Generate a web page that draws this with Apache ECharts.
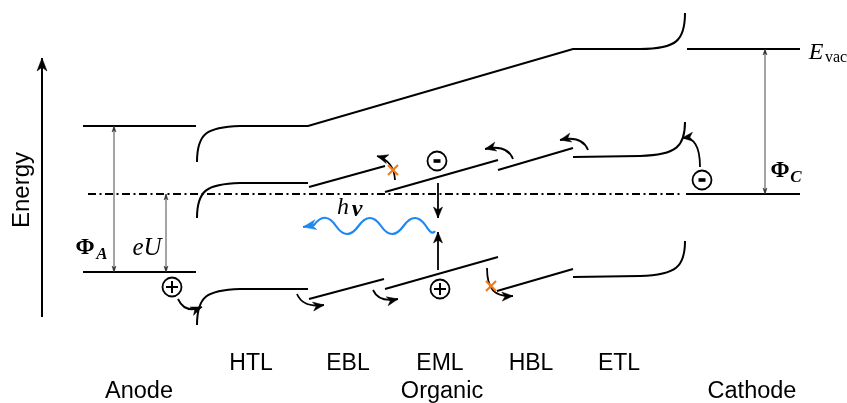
<!DOCTYPE html>
<html><head><meta charset="utf-8">
<script src="https://cdn.jsdelivr.net/npm/echarts@6/dist/echarts.min.js"></script>
<style>html,body{margin:0;padding:0;background:#fff}#c{width:847px;height:403px}</style>
</head><body><div id="c"></div>
<script>
// ---- diagram data (diagram units: x to the right, y downward = lower energy) ----
const layerNames = ['HTL', 'EBL', 'EML', 'HBL', 'ETL'];
const layerLabelX = [251, 348, 440, 531, 619];
const groupNames = ['Anode', 'Organic', 'Cathode'];
const groupLabelX = [139, 442, 752];

// electrode levels
const anodeLevels = [[83, 126, 196, 126], [83, 272, 196, 272]];
const cathodeLevels = [[687, 49, 800, 49], [686, 194, 800, 194]];
const fermiLine = [88, 194, 683, 194];

// vacuum level through the organic stack
const vacuumPath = [['M', 197, 162], ['C', 197, 133, 207, 127, 240, 126], ['L', 308, 126], ['L', 573, 49], ['L', 640, 49], ['C', 677, 49, 685, 40, 685, 13]];
// LUMO / HOMO of each layer
const lumoPaths = [
  [['M', 197, 218], ['C', 197, 190, 207, 184, 240, 183], ['L', 308, 183]],
  [['M', 309, 187], ['L', 385, 166]],
  [['M', 385, 192], ['L', 498, 160]],
  [['M', 498, 170], ['L', 573, 148]],
  [['M', 573, 157], ['L', 640, 156], ['C', 677, 155, 685, 146, 685, 122]]
];
const homoPaths = [
  [['M', 197, 325], ['C', 197, 296, 207, 290, 240, 289], ['L', 308, 289]],
  [['M', 309, 299], ['L', 384, 279]],
  [['M', 385, 289], ['L', 498, 257]],
  [['M', 497, 291], ['L', 573, 269]],
  [['M', 573, 277], ['L', 640, 276], ['C', 677, 275, 685, 266, 685, 241]]
];
// charge hopping arrows
const hopArrows = [
  [['M', 178, 299], ['Q', 185, 314, 202, 307]],
  [['M', 297, 294], ['Q', 303, 308, 324, 305]],
  [['M', 373, 290], ['Q', 379, 303, 398, 299]],
  [['M', 395, 180], ['Q', 394, 161, 377, 156]],
  [['M', 513, 159], ['Q', 507, 144, 485, 149]],
  [['M', 588, 150], ['Q', 582, 135, 560, 140]],
  [['M', 700, 167], ['Q', 700, 136, 682, 138]],
  [['M', 487, 268], ['C', 487, 290, 495, 297, 513, 296]]
];
const recombArrows = [[['M', 438, 183], ['L', 438, 218]], [['M', 438, 270], ['L', 438, 232]]];
const energyAxis = [['M', 42, 317], ['L', 42, 58]];
const gapArrows = [[114, 126, 114, 272], [166, 194, 166, 272], [765, 49, 765, 194]];
const photonWave = [['M', 435, 231], ['Q', 432, 236, 426, 226], ['Q', 415, 210, 403.5, 226], ['Q', 392, 242, 381, 226],
  ['Q', 370, 210, 358.5, 226], ['Q', 347, 242, 336, 226], ['Q', 325, 210, 314, 225], ['L', 303, 227]];
const blockMarks = [[393, 170], [491, 286]];
const electrons = [[437, 161], [702, 180]];
const holes = [[172, 287], [440, 289]];

// ---- rendering ----
const SANS = '"Liberation Sans", Arial, Helvetica, sans-serif';
const SERIF = '"Liberation Serif", "Times New Roman", serif';
const items = [];
function line(x1, y1, x2, y2) { return [['M', x1, y1], ['L', x2, y2]]; }
anodeLevels.concat(cathodeLevels).forEach(s => items.push({ path: line(...s), w: 2 }));
items.push({ path: line(...fermiLine), w: 2, dash: [8, 3.5, 2, 3.5] });
items.push({ path: vacuumPath, w: 2 });
lumoPaths.forEach(p => items.push({ path: p, w: 2 }));
homoPaths.forEach(p => items.push({ path: p, w: 2 }));
hopArrows.forEach(p => items.push({ path: p, w: 1.8, end: [11, 9] }));
recombArrows.forEach(p => items.push({ path: p, w: 1.8, end: [11, 9] }));
items.push({ path: energyAxis, w: 2, end: [13, 10] });
gapArrows.forEach(s => items.push({ path: line(...s), w: 0.9, color: '#333', end: [6, 4], start: [6, 4] }));
items.push({ path: photonWave, w: 2.2, color: '#1e88f0', end: [13, 10] });
blockMarks.forEach(m => items.push({ cross: m }));
electrons.forEach(m => items.push({ charge: m, sign: -1 }));
holes.forEach(m => items.push({ charge: m, sign: 1 }));
const texts = [];
texts.push({ t: 'Energy', x: 22, y: 190, font: '24px ' + SANS, rot: Math.PI / 2 });
layerNames.forEach((n, i) => texts.push({ t: n, x: layerLabelX[i], y: 364, font: '23px ' + SANS }));
groupNames.forEach((n, i) => texts.push({ t: n, x: groupLabelX[i], y: 392, font: '23.5px ' + SANS }));
texts.push({ t: 'Φ', x: 85, y: 248, font: 'bold 23px ' + SERIF });
texts.push({ t: 'A', x: 102, y: 255, font: 'bold italic 17px ' + SERIF });
texts.push({ t: 'eU', x: 147, y: 248, font: 'italic 25px ' + SERIF });
texts.push({ t: 'Φ', x: 780, y: 171, font: 'bold 23px ' + SERIF });
texts.push({ t: 'C', x: 796, y: 178, font: 'bold italic 17px ' + SERIF });
texts.push({ t: 'E', x: 816, y: 53, font: 'italic 24px ' + SERIF });
texts.push({ t: 'vac', x: 836, y: 58, font: '16px ' + SERIF });
texts.push({ t: 'h', x: 343, y: 208, font: 'italic 24px ' + SERIF });
texts.push({ t: 'ν', x: 357, y: 210, font: 'bold italic 24px ' + SERIF });
texts.forEach(t => items.push({ text: t }));

function buildPath(api, cmds) {
  let d = ''; const pts = [];
  cmds.forEach(c => {
    d += c[0];
    for (let k = 1; k < c.length; k += 2) {
      const p = api.coord([c[k], c[k + 1]]);
      d += ' ' + p[0].toFixed(2) + ' ' + p[1].toFixed(2);
      pts.push(p);
    }
    d += ' ';
  });
  return { d, pts };
}
function head(tip, from, size, color) {
  const dx = tip[0] - from[0], dy = tip[1] - from[1];
  const L = Math.hypot(dx, dy) || 1; const ux = dx / L, uy = dy / L; const nx = -uy, ny = ux;
  const len = size[0], hw = size[1] / 2;
  const pts = [tip,
    [tip[0] - ux * len + nx * hw, tip[1] - uy * len + ny * hw],
    [tip[0] - ux * len * 0.72, tip[1] - uy * len * 0.72],
    [tip[0] - ux * len - nx * hw, tip[1] - uy * len - ny * hw]];
  return { type: 'polygon', shape: { points: pts }, style: { fill: color, stroke: color, lineWidth: 0.5 } };
}
function renderItem(params, api) {
  const it = items[params.dataIndex];
  const ch = [];
  if (it.path) {
    const color = it.color || '#000';
    const b = buildPath(api, it.path);
    ch.push({ type: 'path', shape: { pathData: b.d }, style: { fill: 'none', stroke: color, lineWidth: it.w, lineDash: it.dash || null, lineCap: 'butt' } });
    const n = b.pts.length;
    if (it.end) ch.push(head(b.pts[n - 1], b.pts[n - 2], it.end, color));
    if (it.start) ch.push(head(b.pts[0], b.pts[1], it.start, color));
  } else if (it.cross) {
    const c = api.coord(it.cross); const r = 5;
    ch.push({ type: 'line', shape: { x1: c[0] - r, y1: c[1] - r, x2: c[0] + r, y2: c[1] + r }, style: { stroke: '#f07a1a', lineWidth: 2.2 } });
    ch.push({ type: 'line', shape: { x1: c[0] - r, y1: c[1] + r, x2: c[0] + r, y2: c[1] - r }, style: { stroke: '#f07a1a', lineWidth: 2.2 } });
  } else if (it.charge) {
    const c = api.coord(it.charge);
    ch.push({ type: 'circle', shape: { cx: c[0], cy: c[1], r: 9.5 }, style: { fill: '#fff', stroke: '#000', lineWidth: 1.8 } });
    if (it.sign > 0) {
      ch.push({ type: 'line', shape: { x1: c[0] - 6, y1: c[1], x2: c[0] + 6, y2: c[1] }, style: { stroke: '#000', lineWidth: 2 } });
      ch.push({ type: 'line', shape: { x1: c[0], y1: c[1] - 6, x2: c[0], y2: c[1] + 6 }, style: { stroke: '#000', lineWidth: 2 } });
    } else {
      ch.push({ type: 'rect', shape: { x: c[0] - 3.5, y: c[1] - 1.8, width: 7, height: 3.6 }, style: { fill: '#000' } });
    }
  } else if (it.text) {
    const t = it.text; const p = api.coord([t.x, t.y]);
    ch.push({ type: 'text', x: p[0], y: p[1], rotation: t.rot || 0, style: { text: t.t, font: t.font, fill: '#000', align: 'center', verticalAlign: 'middle' } });
  }
  return { type: 'group', children: ch };
}
const chart = echarts.init(document.getElementById('c'), null, { renderer: 'canvas' });
chart.setOption({
  animation: false,
  backgroundColor: '#fff',
  grid: { left: 0, right: 0, top: 0, bottom: 0 },
  xAxis: { type: 'value', min: 0, max: 847, show: false },
  yAxis: { type: 'value', min: 0, max: 403, inverse: true, show: false },
  series: [{ type: 'custom', coordinateSystem: 'cartesian2d', clip: false, silent: true,
    renderItem: renderItem, data: items.map((_, i) => [i, 0]) }]
});
</script></body></html>
